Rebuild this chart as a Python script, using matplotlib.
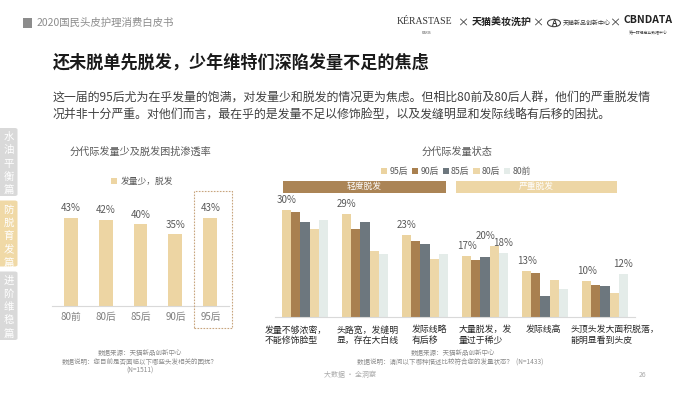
import matplotlib
matplotlib.use("Agg")
import matplotlib.pyplot as plt
from matplotlib.patches import Rectangle, FancyBboxPatch, Circle
import numpy as np

plt.rcParams['font.family'] = ['Noto Sans CJK SC', 'DejaVu Sans']

# ---------------- data ----------------
gens_left = ['80前', '80后', '85后', '90后', '95后']
left_vals = [43, 42, 40, 35, 43]
left_series_name = '发量少，脱发'

right_cats = ['发量不够浓密，\n不能修饰脸型', '头路宽，发缝明\n显，存在大白线', '发际线略\n有后移',
              '大量脱发，发\n量过于稀少', '发际线高', '头顶头发大面积脱落，\n能明显看到头皮']
series_names = ['95后', '90后', '85后', '80后', '80前']
s95 = [30, 29, 23, 17, 13, 10]
s90 = [29.4, 24.6, 21.2, 15.9, 12.3, 8.9]
s85 = [26.6, 26.6, 20.4, 16.7, 5.9, 8.7]
s80h = [24.6, 18.6, 16.3, 20, 10.4, 6.6]
s80q = [27.3, 17.6, 17.6, 18, 7.8, 12]
right_series = [s95, s90, s85, s80h, s80q]
# which (series index, category index) carry value labels
shown_labels = [(0, 0), (0, 1), (0, 2), (0, 3), (0, 4), (0, 5), (3, 3), (4, 3), (4, 5)]
band_names = ['轻度脱发', '严重脱发']

# ---------------- style ----------------
W, H = 700, 394
fig = plt.figure(figsize=(7, 3.94), dpi=100)
fig.patch.set_facecolor('white')

def fx(x):
    return x / W

def fy(y):
    return 1 - y / H

series_colors = ['#EBD3A0', '#A9804F', '#6D777E', '#EDD7A8', '#E4ECE9']
left_color = '#EDD5A3'
grey_text = '#595959'

# ---------------- header ----------------
fig.patches.append(Rectangle((fx(23), fy(27.5)), 9 / W, 9 / H, transform=fig.transFigure,
                             color='#8c8c8c', lw=0))
fig.text(fx(37), fy(23), '2020国民头皮护理消费白皮书', fontsize=7.5, color='#8c8c8c', va='center')

fig.text(fx(53), fy(63), '还未脱单先脱发，少年维特们深陷发量不足的焦虑', fontsize=12.3,
         fontweight='bold', color='#1a1a1a', va='center')

para = ('这一届的95后尤为在乎发量的饱满，对发量少和脱发的情况更为焦虑。但相比80前及80后人群，他们的严重脱发情\n'
        '况并非十分严重。对他们而言，最在乎的是发量不足以修饰脸型，以及发缝明显和发际线略有后移的困扰。')
fig.text(fx(53), fy(106), para, fontsize=8.6, color='#404040', va='center', linespacing=1.55)

# logos (text approximations)
fig.text(fx(397), fy(21.5), 'KÉRASTASE', fontsize=7, family='Liberation Serif', color='#333333', va='center')
fig.text(fx(426), fy(32.5), 'PARIS', fontsize=2.5, color='#555555', va='center', ha='center')
fig.text(fx(463), fy(23), '×', fontsize=8, color='#333333', va='center', ha='center')
fig.text(fx(472), fy(22), '天猫美妆洗护', fontsize=7.2, color='#222222', va='center', fontweight='bold')
fig.text(fx(538), fy(23), '×', fontsize=8, color='#333333', va='center', ha='center')
fig.patches.append(Circle((fx(554), fy(23)), 6.5 / W, transform=fig.transFigure, fill=False,
                          ec='#444444', lw=0.8))
fig.text(fx(554), fy(23), 'A', fontsize=6, color='#333333', va='center', ha='center', fontweight='bold')
fig.text(fx(563), fy(23), '天猫新品创新中心', fontsize=4.3, color='#333333', va='center')
fig.text(fx(615), fy(23), '×', fontsize=8, color='#333333', va='center', ha='center')
fig.text(fx(624), fy(20), 'CBNDATA', fontsize=7.5, color='#222222', va='center', fontweight='bold')
fig.text(fx(648), fy(32.5), '第一财经商业数据中心', fontsize=2.8, color='#444444', va='center', ha='center')

# ---------------- side tabs ----------------
tabs = [('水油平衡篇', 128, 196, '#D9D9D9'), ('防脱育发篇', 200.5, 266.5, '#F0D9A6'),
        ('进阶维稳篇', 271.5, 340, '#D9D9D9')]
for txt, y0, y1, col in tabs:
    fig.patches.append(FancyBboxPatch((fx(-4), fy(y1)), 21.5 / W, (y1 - y0) / H,
                                      boxstyle='round,pad=0,rounding_size=0.004',
                                      transform=fig.transFigure, color=col, lw=0))
    for i, ch in enumerate(txt):
        fig.text(fx(8.5), fy(y0 + 9 + i * 13.3), ch, fontsize=7.5, color='white',
                 ha='center', va='center')

# ---------------- left chart ----------------
axL = fig.add_axes([fx(52), fy(306), (229 - 52) / W, (306 - 203.5) / H])
xl = np.arange(len(gens_left))
barsL = axL.bar(xl, left_vals, width=0.4, color=left_color, label=left_series_name)
axL.set_xlim(-0.53, 4.53)
axL.set_ylim(0, 50)
for i, v in enumerate(left_vals):
    axL.annotate(f'{v}%', (xl[i], v), xytext=(0, 6.8), textcoords='offset points',
                 ha='center', va='center', fontsize=7, color=grey_text)
axL.set_xticks(xl)
axL.set_xticklabels(gens_left, fontsize=7, color='#7f7f7f')
axL.tick_params(axis='x', length=0, pad=4)
axL.set_yticks([])
for s in ['top', 'right', 'left']:
    axL.spines[s].set_visible(False)
axL.spines['bottom'].set_color('#d9d9d9')
axL.spines['bottom'].set_linewidth(0.8)
axL.set_facecolor('none')
axL.legend(loc='center', bbox_to_anchor=(fx(142), fy(181.7)), bbox_transform=fig.transFigure,
           frameon=False, fontsize=6.3, labelcolor=grey_text, handlelength=0.7, handleheight=0.7,
           handletextpad=0.4)
fig.text(fx(70), fy(152), '分代际发量少及脱发困扰渗透率', fontsize=7.3, color=grey_text, va='center')

# dashed highlight box
fig.patches.append(Rectangle((fx(194.3), fy(328.3)), (232.3 - 194.3) / W, (328.3 - 190.7) / H,
                             transform=fig.transFigure, fill=False, ec='#C8A57E', lw=0.8,
                             ls=(0, (1.5, 1.2))))

# footer notes left
fig.text(fx(140), fy(353.5), '数据来源：天猫新品创新中心', fontsize=4.7, color='#8c8c8c', ha='center', va='center')
fig.text(fx(140), fy(362.3), '数据说明：您目前是否面临以下哪些头发相关的困扰？', fontsize=4.7, color='#8c8c8c',
         ha='center', va='center')
fig.text(fx(140), fy(370.7), '(N=1511)', fontsize=4.7, color='#8c8c8c', ha='center', va='center')

# ---------------- right chart ----------------
axR = fig.add_axes([fx(275), fy(317), (635 - 275) / W, (317 - 202.8) / H])
xr = np.arange(len(right_cats))
bw = 0.153
for k, (vals, name, col) in enumerate(zip(right_series, series_names, series_colors)):
    axR.bar(xr + (k - 2) * bw, vals, width=bw, color=col, label=name)
axR.set_xlim(-0.5, 5.5)
axR.set_ylim(0, 32)
label_shift = {(3, 3): -0.15}
for (k, i) in shown_labels:
    v = right_series[k][i]
    dx = label_shift.get((k, i), 0)
    axR.annotate(f'{round(v)}%', (xr[i] + (k - 2) * bw + dx, v), xytext=(0, 7.2),
                 textcoords='offset points', ha='center', va='center', fontsize=7, color=grey_text)
axR.set_xticks([])
axR.set_yticks([])
for s in ['top', 'right', 'left']:
    axR.spines[s].set_visible(False)
axR.spines['bottom'].set_color('#d9d9d9')
axR.spines['bottom'].set_linewidth(0.8)
axR.set_facecolor('none')

cat_shift = [-0.15, 0.05, 0.07, 0.0, -0.02, 0.17]
for i, lab in enumerate(right_cats):
    axR.annotate(lab, (xr[i] + cat_shift[i], 0), xytext=(0, -6), textcoords='offset points',
                 ha='center', va='top', fontsize=6.4, color='#262626', multialignment='left',
                 linespacing=1.25, annotation_clip=False)

axR.legend(loc='center', bbox_to_anchor=(fx(456), fy(171.7)), bbox_transform=fig.transFigure,
           ncol=5, frameon=False, fontsize=6.3, labelcolor=grey_text, handlelength=0.7,
           handleheight=0.7, handletextpad=0.25, columnspacing=0.45)
fig.text(fx(456.5), fy(152), '分代际发量状态', fontsize=7.3, color=grey_text, va='center', ha='center')

# bands
bands = [(283, 445.7, '#AB8455', band_names[0]), (456, 617.3, '#EDD6A5', band_names[1])]
for x0, x1, col, txt in bands:
    fig.patches.append(Rectangle((fx(x0), fy(192.7)), (x1 - x0) / W, 12 / H,
                                 transform=fig.transFigure, color=col, lw=0))
    fig.text(fx((x0 + x1) / 2), fy(186.7), txt, fontsize=6.3, color='white', ha='center', va='center')

# footer notes right
fig.text(fx(453), fy(353.5), '数据来源：天猫新品创新中心', fontsize=4.7, color='#8c8c8c', ha='center', va='center')
fig.text(fx(450), fy(362.3), '数据说明：请问以下哪种描述比较符合您的发量状态？  (N=1433)', fontsize=4.7,
         color='#8c8c8c', ha='center', va='center')

fig.text(fx(350), fy(375), '大数据 · 全洞察', fontsize=5, color='#aaaaaa', ha='center', va='center')
fig.text(fx(643), fy(375), '26', fontsize=5, color='#aaaaaa', ha='center', va='center')

fig.savefig('out.png', dpi=100)
